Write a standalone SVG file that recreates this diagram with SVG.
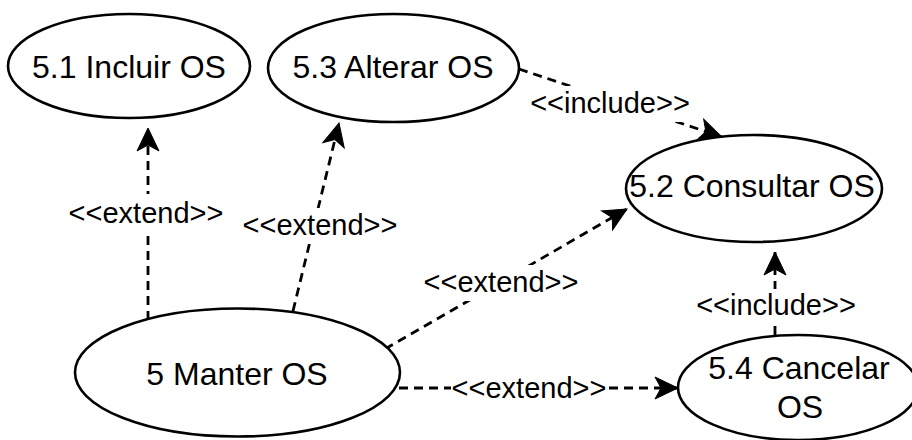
<svg xmlns="http://www.w3.org/2000/svg" width="912" height="440" viewBox="0 0 912 440">
<style>
.node ellipse{fill:#fff;stroke:#000;stroke-width:2.6}
.nt{font-family:"Liberation Sans",Arial,sans-serif;font-size:32px;fill:#000;text-anchor:middle}
.edge line{stroke:#000;stroke-width:2.8;stroke-dasharray:9 6;fill:none}
.lbg{fill:#fff}
.lt{font-family:"Liberation Sans",Arial,sans-serif;font-size:29px;fill:#000;text-anchor:middle}
</style>
<defs>
<marker id="arr" markerUnits="userSpaceOnUse" orient="auto" refX="0" refY="0" markerWidth="30" markerHeight="30" overflow="visible">
<path d="M0,0 L-23,-11 L-17,0 L-23,11 Z" fill="#000" stroke="#000" stroke-width="1"/>
</marker>
</defs>
<rect width="912" height="440" fill="#fff"/>
<g id="connectors" class="edge">
<line x1="148" y1="320" x2="148" y2="128" marker-end="url(#arr)"/>
<line x1="293" y1="311" x2="339" y2="123" marker-end="url(#arr)"/>
<line x1="385" y1="349" x2="627" y2="209" marker-end="url(#arr)"/>
<line x1="399" y1="388" x2="678" y2="388" marker-end="url(#arr)"/>
<line x1="519" y1="69" x2="722" y2="137" marker-end="url(#arr)"/>
<line x1="775" y1="335" x2="775" y2="252" marker-end="url(#arr)"/>
<g id="labels">
<rect class="lbg" x="68" y="194" width="157" height="36"/>
<text class="lt" x="146" y="223">&lt;&lt;extend&gt;&gt;</text>
<rect class="lbg" x="242" y="208" width="157" height="36"/>
<text class="lt" x="320" y="235">&lt;&lt;extend&gt;&gt;</text>
<rect class="lbg" x="422" y="265" width="157" height="36"/>
<text class="lt" x="501" y="292">&lt;&lt;extend&gt;&gt;</text>
<rect class="lbg" x="451" y="371" width="157" height="36"/>
<text class="lt" x="529" y="398">&lt;&lt;extend&gt;&gt;</text>
<rect class="lbg" x="529" y="86" width="163" height="36"/>
<text class="lt" x="610" y="113">&lt;&lt;include&gt;&gt;</text>
<rect class="lbg" x="695" y="289" width="163" height="34"/>
<text class="lt" x="776" y="315">&lt;&lt;include&gt;&gt;</text>
</g>
</g>
<g id="n51" class="node">
<ellipse cx="129" cy="66" rx="121" ry="52"/>
<text class="nt" x="129" y="78">5.1 Incluir OS</text>
</g>
<g id="n53" class="node">
<ellipse cx="393.5" cy="68" rx="125.5" ry="54"/>
<text class="nt" x="393" y="78">5.3 Alterar OS</text>
</g>
<g id="n52" class="node">
<ellipse cx="754" cy="188.5" rx="128" ry="53.5"/>
<text class="nt" x="752" y="197">5.2 Consultar OS</text>
</g>
<g id="n5" class="node">
<ellipse cx="237.5" cy="372.5" rx="162.5" ry="64"/>
<text class="nt" x="237" y="385">5 Manter OS</text>
</g>
<g id="n54" class="node">
<ellipse cx="798" cy="387.5" rx="120" ry="52.5"/>
<text class="nt" x="799" y="379">5.4 Cancelar</text>
<text class="nt" x="800" y="418">OS</text>
</g>
</svg>
